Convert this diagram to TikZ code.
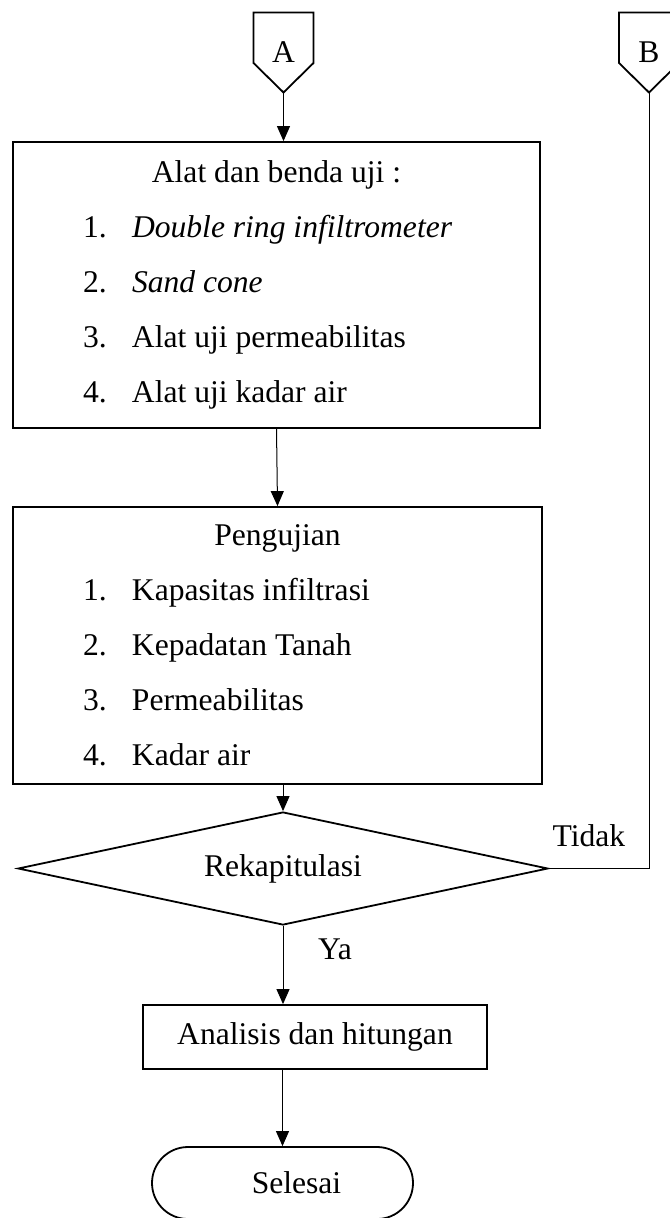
\documentclass[tikz,border=0pt]{standalone}
\usepackage{fontspec}
\setmainfont{Liberation Serif}
\usetikzlibrary{positioning,calc,shapes.geometric,arrows.meta}

\tikzset{
  every node/.style={font=\fontsize{15.8pt}{19pt}\selectfont},
  kotak/.style={draw, line width=0.9pt, inner sep=0pt},
  offpage/.style={inner sep=0pt, minimum width=29.5pt, minimum height=39.5pt},
  keputusan/.style={diamond, draw, line width=0.9pt, inner sep=0pt, shape aspect=4.7,
    minimum width=265pt, minimum height=56.5pt},
  terminal/.style={draw, line width=0.9pt, rounded corners=18pt,
    minimum width=130.5pt, minimum height=36pt}
}

\newcommand{\butir}[2]{\hspace*{35pt}\makebox[24.5pt][l]{#1}#2\par}

\begin{document}
\begin{tikzpicture}[x=0.5pt, y=-0.5pt, >={Triangle[length=7.5pt,width=6.5pt]}, line width=0.5pt]

\useasboundingbox (0,0) rectangle (669,1218);

% konektor halaman
\node [offpage] (conn-A) at (283.5,52.5) {A};
\node [offpage] (conn-B) at (649,52.5) {B};
\foreach \k in {A,B}
  \draw [line width=0.9pt] (conn-\k.north west) -- (conn-\k.north east)
    -- ([yshift=-5.25pt]conn-\k.east) -- (conn-\k.south)
    -- ([yshift=-5.25pt]conn-\k.west) -- cycle;

% alat dan benda uji
\node [kotak, minimum width=263.5pt, minimum height=143pt] (alat) at (276.5,285) {%
  \begin{minipage}{263.5pt}\fontsize{15.8pt}{27.5pt}\selectfont
  \centering Alat dan benda uji :\par\raggedright
  \butir{1.}{\textit{Double ring infiltrometer}}
  \butir{2.}{\textit{Sand cone}}
  \butir{3.}{Alat uji permeabilitas}
  \butir{4.}{Alat uji kadar air}
  \end{minipage}};

% pengujian
\node [kotak, minimum width=264.5pt, minimum height=138.5pt] (uji) at (277.5,645.5) {%
  \begin{minipage}{264.5pt}\fontsize{15.8pt}{27.5pt}\selectfont
  \centering Pengujian\par\raggedright
  \butir{1.}{Kapasitas infiltrasi}
  \butir{2.}{Kepadatan Tanah}
  \butir{3.}{Permeabilitas}
  \butir{4.}{Kadar air}
  \end{minipage}};

\node [keputusan] (rekap) at (283,868.5) {Rekapitulasi};

\node [kotak, minimum width=172pt, minimum height=32pt] (hitung) at (315,1037) {Analisis dan hitungan};

\node [terminal] (selesai) at (282.5,1183) {\hspace*{14pt}Selesai};

\draw [->] (conn-A.south) -- (conn-A.south |- alat.north);
\draw [->] (alat.south) -- (uji.north);
\draw [->] (rekap.north |- uji.south) -- (rekap.north);
\draw [->] (rekap.south) -- node [pos=0.3, right=14pt] {Ya} (rekap.south |- hitung.north);
\draw [->] (selesai.north |- hitung.south) -- (selesai.north);
\draw (conn-B.south) -- (conn-B.south |- rekap.east)
  -- node [pos=0.6, above=7.5pt] {Tidak} (rekap.east);

\end{tikzpicture}
\end{document}
